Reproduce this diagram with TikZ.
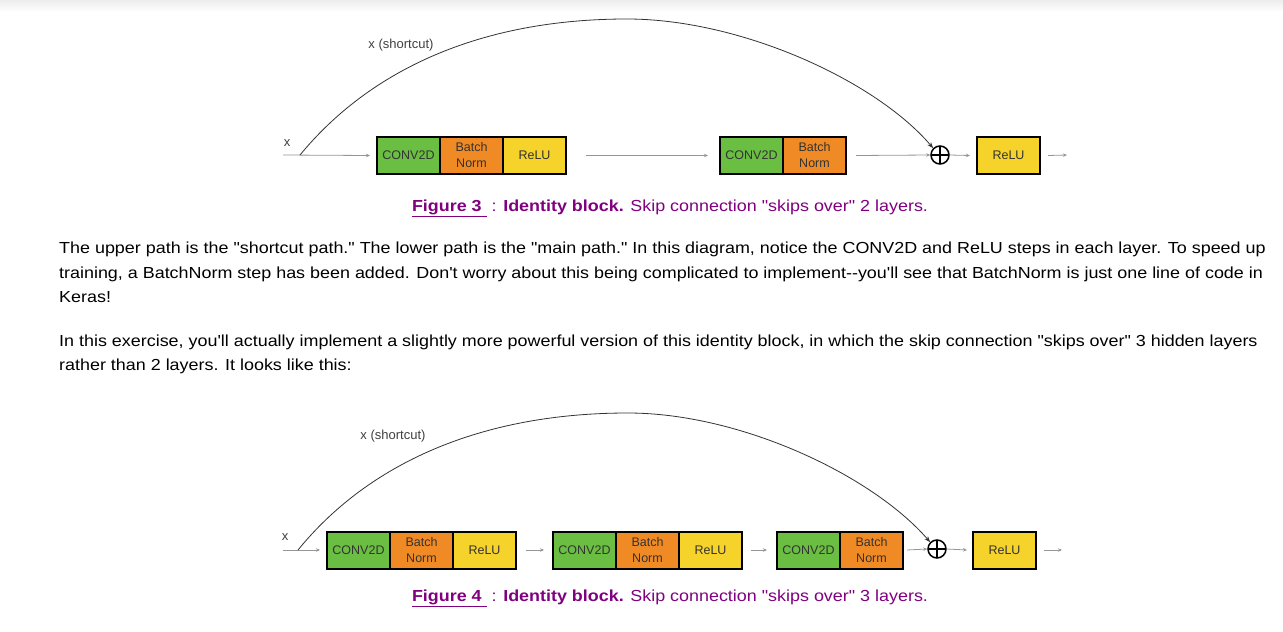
\documentclass[tikz,border=0pt]{standalone}
\usepackage{fontspec}
\newfontfamily\htmlfont{Liberation Sans}
\newfontfamily\pagefont{Liberation Sans}[FakeStretch=1.12]
\usetikzlibrary{positioning,arrows.meta}

\definecolor{convgreen}{RGB}{106,190,66}
\definecolor{bnorange}{RGB}{240,138,36}
\definecolor{reluyellow}{RGB}{245,211,42}
\definecolor{capurple}{RGB}{128,0,128}
\definecolor{flowgray}{RGB}{150,150,150}

\tikzset{
  layer/.style={draw=black, line width=2pt, minimum width=63pt, minimum height=37pt,
    inner sep=0pt, outer sep=0pt, align=center, text=black!80,
    font=\htmlfont\fontsize{12.5}{16}\selectfont},
  conv/.style={layer, fill=convgreen},
  bn/.style={layer, fill=bnorange},
  relu/.style={layer, fill=reluyellow},
  addop/.style={circle, draw=black, line width=1.5pt, minimum size=18pt, inner sep=0pt,
    path picture={\draw[line width=1.3pt]
      (path picture bounding box.north) -- (path picture bounding box.south)
      (path picture bounding box.west) -- (path picture bounding box.east);}},
  flow/.style={draw=flowgray, line width=0.8pt, -{Stealth[length=4pt,width=3.5pt]}},
  skip/.style={draw=black!80, line width=0.8pt, -{Stealth[length=6pt,width=4.5pt]}},
  small/.style={font=\htmlfont\fontsize{13}{15}\selectfont, text=black!75, inner sep=0pt},
  caption/.style={font=\pagefont\fontsize{16}{20}\selectfont, text=capurple, anchor=base, inner sep=0pt},
  body/.style={font=\pagefont\fontsize{16}{20}\selectfont, anchor=base west, inner sep=0pt},
}

\begin{document}
\begin{tikzpicture}[x=1pt,y=-1pt]
\useasboundingbox[fill=white] (0,0) rectangle (1283,632);
\shade[top color=black!7, bottom color=white] (0,0) rectangle (1283,12);

% Figure 3: two layers
\coordinate (in3) at (283,155);
\coordinate (sp3) at (300,155);
\coordinate (top3) at (627,19);
\node[small] (x3) at (287,143) {x};
\node[conv, anchor=west] (c31) at (377,155.5) {CONV2D};
\node[bn, right=0pt of c31] (b31) {Batch\\Norm};
\node[relu, right=0pt of b31] (r31) {ReLU};
\node[conv, anchor=west] (c32) at (720,155.5) {CONV2D};
\node[bn, right=0pt of c32] (b32) {Batch\\Norm};
\node[addop] (add3) at (940,155) {};
\node[relu, anchor=west] (r33) at (977,155.5) {ReLU};
\coordinate (out3) at (1067,155);
\node[small] (sc3) at (401,45) {x (shortcut)};

\draw[flow] (in3) -- ([xshift=-7pt]c31.west);
\draw[flow] ([xshift=20pt]r31.east) -- ([xshift=-12pt]c32.west);
\draw[flow] ([xshift=10pt]b32.east) -- (add3.west);
\draw[flow] (add3.east) -- ([xshift=-7pt]r33.west);
\draw[flow] ([xshift=8pt]r33.east) -- (out3);
\draw[skip] (sp3) .. controls (370,70) and (480,19) .. (top3)
  .. controls (740,19) and (875,80) .. (add3.north west);

\node[caption] (cap3) at (670,211) {\textbf{\underline{Figure 3 }} : \textbf{Identity block.} Skip connection "skips over" 2 layers.};

% text between the figures
\node[body] (l1) at (59,253) {The upper path is the "shortcut path." The lower path is the "main path." In this diagram, notice the CONV2D and ReLU steps in each layer. To speed up};
\node[body] (l2) at (59,278) {training, a BatchNorm step has been added. Don't worry about this being complicated to implement--you'll see that BatchNorm is just one line of code in};
\node[body] (l3) at (59,302) {Keras!};
\node[body] (l4) at (59,346) {In this exercise, you'll actually implement a slightly more powerful version of this identity block, in which the skip connection "skips over" 3 hidden layers};
\node[body] (l5) at (59,370) {rather than 2 layers. It looks like this:};

% Figure 4: three layers
\begin{scope}[every node/.append style={minimum height=40pt}]
\coordinate (in4) at (283,550);
\coordinate (sp4) at (298,550);
\coordinate (top4) at (628,413);
\node[small, minimum height=0pt] (x4) at (285,537) {x};
\foreach \i/\xx in {1/327,2/553,3/777} {
  \node[conv, anchor=west] (c4\i) at (\xx,550) {CONV2D};
  \node[bn, right=0pt of c4\i] (b4\i) {Batch\\Norm};
}
\node[relu, right=0pt of b41] (r41) {ReLU};
\node[relu, right=0pt of b42] (r42) {ReLU};
\node[addop, minimum height=18pt] (add4) at (937,549) {};
\node[relu, anchor=west] (r44) at (973,550) {ReLU};
\coordinate (out4) at (1062,550);
\node[small, minimum height=0pt] (sc4) at (393,436) {x (shortcut)};
\end{scope}

\draw[flow] (in4) -- ([xshift=-7pt]c41.west);
\draw[flow] ([xshift=10pt]r41.east) -- ([xshift=-9pt]c42.west);
\draw[flow] ([xshift=9pt]r42.east) -- ([xshift=-10pt]c43.west);
\draw[flow] ([xshift=4pt]b43.east) -- (add4.west);
\draw[flow] (add4.east) -- ([xshift=-6pt]r44.west);
\draw[flow] ([xshift=8pt]r44.east) -- (out4);
\draw[skip] (sp4) .. controls (368,464) and (480,413) .. (top4)
  .. controls (740,413) and (872,475) .. (add4.north west);

\node[caption] (cap4) at (670,601) {\textbf{\underline{Figure 4 }} : \textbf{Identity block.} Skip connection "skips over" 3 layers.};
\end{tikzpicture}
\end{document}
